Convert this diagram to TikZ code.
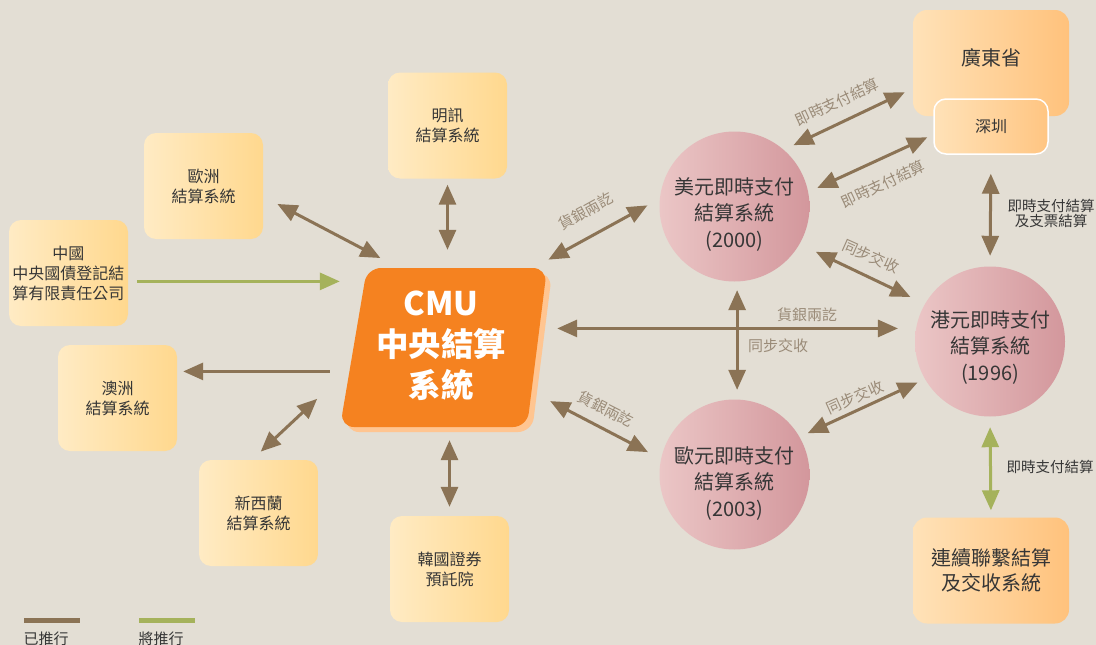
\documentclass[tikz,border=0pt]{standalone}
\usepackage{fontspec}
\setmainfont{Noto Sans CJK TC}
\usetikzlibrary{arrows.meta,calc}
\definecolor{bg}{HTML}{E3DED4}
\definecolor{brn}{HTML}{8B7355}
\definecolor{grn}{HTML}{A5B25B}
\definecolor{lbl}{HTML}{9A8B78}
\definecolor{txt}{HTML}{363636}
\definecolor{boxL}{HTML}{FFEBC4}
\definecolor{boxR}{HTML}{FFD88E}
\definecolor{orL}{HTML}{FFE2B8}
\definecolor{orR}{HTML}{FFC27C}
\definecolor{pkL}{HTML}{EBC6C6}
\definecolor{pkR}{HTML}{D3979C}
\definecolor{cmuO}{HTML}{F58220}
\definecolor{cmuS}{HTML}{FFC591}
\begin{document}
\begin{tikzpicture}[x=1pt,y=-1pt,
  sbox/.style={rectangle, rounded corners=12pt, left color=boxL, right color=boxR,
    minimum width=119pt, minimum height=106pt, align=center, text=txt,
    font=\fontsize{16}{20}\selectfont, inner sep=0pt},
  bbox/.style={rectangle, rounded corners=14pt, left color=orL, right color=orR,
    minimum width=156pt, minimum height=106pt, align=center, text=txt,
    font=\fontsize{20}{25}\selectfont, inner sep=0pt},
  rtgs/.style={circle, minimum size=150pt, left color=pkL, right color=pkR, inner sep=0pt},
  ctext/.style={align=center, text=txt, font=\fontsize{20}{26.5}\selectfont, inner sep=0pt},
  bi/.style={draw=brn, line width=3pt, {Triangle[length=20pt,width=17pt]}-{Triangle[length=20pt,width=17pt]}},
  uni/.style={draw=brn, line width=3pt, -{Triangle[length=20pt,width=17pt]}},
  gr/.style={draw=grn, line width=3pt, -{Triangle[length=20pt,width=17pt]}},
  gbi/.style={draw=grn, line width=3pt, {Triangle[length=20pt,width=17pt]}-{Triangle[length=20pt,width=17pt]}},
  lab/.style={text=lbl, font=\fontsize{15}{17}\selectfont, inner sep=0pt},
  rlab/.style={text=txt, font=\fontsize{14.5}{15}\selectfont, inner sep=0pt, align=center},
  leg/.style={text=txt, font=\fontsize{15}{17}\selectfont, inner sep=0pt}
]
\useasboundingbox (0,0) rectangle (1096,645);
\fill[bg] (0,0) rectangle (1096,645);

% CMU shape
\fill[cmuS, rounded corners=14pt] (372,273) -- (552,273) -- (532,432) -- (345,432) -- cycle;
\fill[cmuO, rounded corners=14pt] (367,268) -- (547,268) -- (527,427) -- (340,427) -- cycle;
\node[rectangle, minimum width=210pt, minimum height=159pt, inner sep=0pt] (cmu) at (445,347.5) {};
\node[text=white, font=\bfseries\fontsize{32.5}{41}\selectfont, align=center, inner sep=0pt] (cmut) at (441,346) {CMU\\中央結算\\系統};

% boxes
\node[sbox] (ming) at (447.5,125.5) {明訊\\結算系統};
\node[sbox] (eu) at (203.5,186) {歐洲\\結算系統};
\node[sbox] (cn) at (68.5,273) {中國\\中央國債登記結\\算有限責任公司};
\node[sbox] (au) at (117.5,398) {澳洲\\結算系統};
\node[sbox] (nz) at (258.5,513) {新西蘭\\結算系統};
\node[sbox] (kr) at (449.5,569) {韓國證券\\預託院};

\node[bbox] (gd) at (991,63) {};
\node[ctext] (gdt) at ($(gd)+(0,-5)$) {廣東省};
\node[rectangle, rounded corners=12pt, left color=orL, right color=orR!90!orL, draw=white, line width=1.5pt,
  minimum width=114pt, minimum height=55pt, text=txt, font=\fontsize{16}{20}\selectfont, inner sep=0pt] (sz) at (991,126.5) {深圳};
\node[bbox] (cc) at (991,570.5) {連續聯繫結算\\及交收系統};

% circles
\node[rtgs] (usd) at (734.5,206.5) {};
\node[ctext] (usdt) at ($(usd)+(0,8)$) {美元即時支付\\結算系統\\(2000)};
\node[rtgs] (hkd) at (990,341.5) {};
\node[ctext] (hkdt) at ($(hkd)+(0,6)$) {港元即時支付\\結算系統\\(1996)};
\node[rtgs] (eur) at (734.5,474.5) {};
\node[ctext] (eurt) at ($(eur)+(0,9)$) {歐元即時支付\\結算系統\\(2003)};

% connectors
\draw[bi, shorten <=6pt, shorten >=18pt] (ming.south) -- (ming.south |- cmu.north);
\draw[bi, shorten <=16pt, shorten >=21pt] (eu.-10) -- (cmu.120);
\draw[gr, shorten <=9pt] (cn.-8) -- (cn.-8 -| cmu.west);
\draw[uni, shorten <=10pt, shorten >=6pt] (au.24 -| cmu.west) -- (au.24);
\draw[bi, shorten <=12pt, shorten >=31pt] (nz.97.6) -- (cmu.196);
\draw[bi, shorten <=9pt, shorten >=13pt] (kr.north) -- (kr.north |- cmu.south);
\draw[bi, shorten <=17pt, shorten >=14pt] (cmu.42) -- (usd.174);
\draw[bi, shorten <=7pt, shorten >=18pt] (hkd.170 -| cmu.east) -- (hkd.170);
\draw[bi, shorten <=8.5pt, shorten >=9.5pt] (usd.-88) -- (eur.88);
\draw[bi, shorten >=14.6pt] (cmu.-27.6) -- (eur.168.6);
\draw[bi, shorten <=18pt, shorten >=16pt] (usd.-30) -- (hkd.150);
\draw[bi, shorten <=9pt, shorten >=8pt] (eur.30) -- (hkd.-150);
\draw[bi, shorten <=10.7pt, shorten >=8.8pt] (usd.49) -- (gd.198.6);
\draw[bi, shorten <=9.8pt, shorten >=6.6pt] (usd.11) -- (sz.188);
\draw[bi, shorten <=19pt, shorten >=10.5pt] (sz.south) -- (hkd.north);
\draw[gbi, shorten <=10.5pt, shorten >=7pt] (hkd.south) -- (cc.north);

% labels
\node[lab, rotate=29] (l1) at (586,211) {貨銀兩訖};
\node[lab, rotate=-27] (l2) at (606,409) {貨銀兩訖};
\node[lab] (l3) at (807,315) {貨銀兩訖};
\node[lab] (l4) at (778,346) {同步交收};
\node[lab, rotate=-24] (l5) at (871,256) {同步交收};
\node[lab, rotate=24] (l6) at (855,397) {同步交收};
\node[lab, rotate=25] (l7) at (837,102) {即時支付結算};
\node[lab, rotate=25] (l8) at (883,184) {即時支付結算};
\node[rlab] (l9) at (1051,214) {即時支付結算\\及支票結算};
\node[rlab] (l10) at (1050,467) {即時支付結算};

% legend
\draw[brn, line width=5pt] (24,620) -- (80,620);
\node[leg] (lg1) at (46,639) {已推行};
\draw[grn, line width=5pt] (139,620) -- (195,620);
\node[leg] (lg2) at (161,639) {將推行};
\end{tikzpicture}
\end{document}
